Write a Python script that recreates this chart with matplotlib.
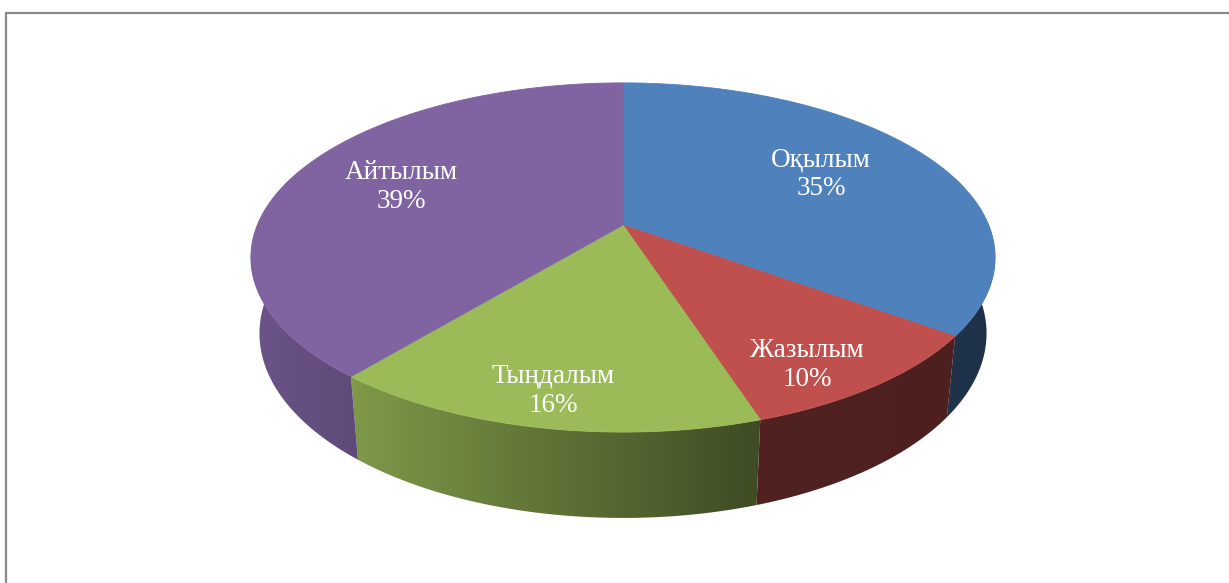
import numpy as np
import matplotlib
matplotlib.use("Agg")
import matplotlib.pyplot as plt
from matplotlib.patches import Polygon

# --- data -------------------------------------------------------------
labels = ["Оқылым", "Жазылым", "Тыңдалым", "Айтылым"]
shares = [35, 10, 16, 39]
pct_labels = ["35%", "10%", "16%", "39%"]

# --- style ------------------------------------------------------------
top_colors = ["#4F81BD", "#C0504D", "#9BBB59", "#8064A2"]
# side shading factors (left end, right end) for each slice wall
side_shade = [(0.40, 0.38), (0.42, 0.40), (0.82, 0.40), (0.84, 0.74)]
label_pos = [(821, 166), (807, 357), (553, 383), (401, 179)]
line_gap = 29

W, H = 1229, 583
CX, CY = 623.0, 225.0          # screen position of the pie centre
ELEV = np.arcsin(0.461)        # camera elevation
DIST = 4.77                    # camera distance (in pie radii)
FOCAL = 1744.0                 # focal length in pixels
THICK = 0.236                  # pie thickness (in pie radii)


def proj(t, z=0.0):
    """Perspective projection of a rim point at angle t and height z."""
    x, y = np.cos(t), np.sin(t)
    se, ce = np.sin(ELEV), np.cos(ELEV)
    depth = DIST + y * ce - z * se
    up = y * se + z * ce
    return CX + FOCAL * x / depth, CY - FOCAL * up / depth


def hex2rgb(h):
    h = h.lstrip("#")
    return np.array([int(h[i:i + 2], 16) for i in (0, 2, 4)]) / 255.0


fig = plt.figure(figsize=(W / 100, H / 100), dpi=100)
ax = fig.add_axes([0, 0, 1, 1])
ax.set_xlim(0, W)
ax.set_ylim(H, 0)
ax.axis("off")

# chart frame
ax.plot([6, 6], [12.5, H + 5], color="#8a8a8a", lw=1.6, solid_capstyle="butt")
ax.plot([5.2, W + 5], [12.5, 12.5], color="#8a8a8a", lw=1.6, solid_capstyle="butt")

# slice angles: start at 12 o'clock, clockwise
cum = np.concatenate([[0], np.cumsum(shares)]) / float(sum(shares))
starts = 90.0 - 360.0 * cum[:-1]
ends = 90.0 - 360.0 * cum[1:]

VIS_LO, VIS_HI = -200.0, 20.0   # angular range of the front wall

# walls
for i in range(len(shares)):
    a_hi, a_lo = starts[i], ends[i]
    for shift in (-360.0, 0.0, 360.0):
        lo = max(a_lo + shift, VIS_LO)
        hi = min(a_hi + shift, VIS_HI)
        if hi <= lo:
            continue
        tt = np.radians(np.linspace(hi, lo, 200))
        xt, yt = proj(tt)
        xb, yb = proj(tt, -THICK)
        xs = np.concatenate([xt, xb[::-1]])
        ys = np.concatenate([yt, yb[::-1]])
        poly = Polygon(np.column_stack([xs, ys]), closed=True,
                       facecolor="none", edgecolor="none")
        ax.add_patch(poly)
        base = hex2rgb(top_colors[i])
        fl, fr = side_shade[i]
        f = np.linspace(fl, fr, 256)
        img = (base[None, :] * f[:, None])[None, :, :]
        x0, x1 = xs.min() - 1, xs.max() + 1
        y0, y1 = ys.min() - 1, ys.max() + 1
        im = ax.imshow(img, extent=[x0, x1, y1, y0], aspect="auto",
                       interpolation="bilinear", zorder=1)
        im.set_clip_path(poly)

# top surface
for i in range(len(shares)):
    tt = np.radians(np.linspace(starts[i], ends[i], 300))
    xt, yt = proj(tt)
    xs = np.concatenate([[CX], xt])
    ys = np.concatenate([[CY], yt])
    ax.add_patch(Polygon(np.column_stack([xs, ys]), closed=True,
                         facecolor=top_colors[i], edgecolor=top_colors[i],
                         lw=0.6, zorder=2))

# labels
fam = ["Liberation Serif", "DejaVu Serif"]
for (x, y), name, pct in zip(label_pos, labels, pct_labels):
    ax.text(x, y, name, color="white", fontsize=19.5, family=fam,
            ha="center", va="baseline", zorder=3)
    ax.text(x, y + line_gap, pct, color="white", fontsize=19.5, family=fam,
            ha="center", va="baseline", zorder=3)

fig.savefig("out.png", dpi=100, facecolor="white")
